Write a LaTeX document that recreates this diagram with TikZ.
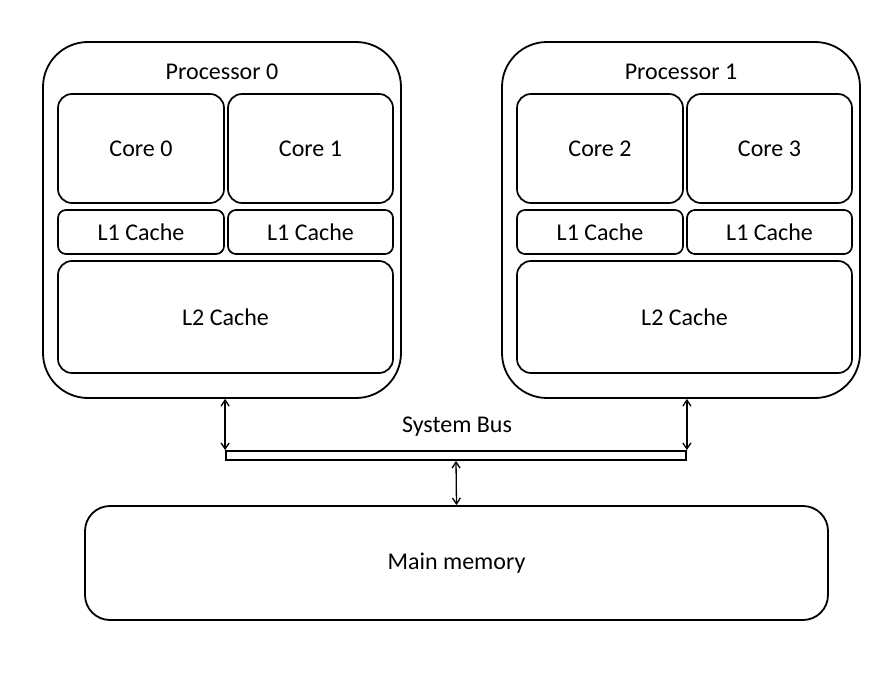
\documentclass[tikz,border=0pt]{standalone}
\usepackage{fontspec}
\setmainfont{Carlito}
\usepackage{tikz}
\usetikzlibrary{shapes,arrows,arrows.meta}
\usetikzlibrary{positioning}
\tikzset{unit box/.style={draw,rounded corners=14pt,line width=1.7pt,inner sep=0pt},
         cache box/.style={draw,rounded corners=8pt,line width=1.7pt,inner sep=0pt}}

\begin{document}
\begin{tikzpicture}[x=1pt,y=-1pt,>={Straight Barb[length=6pt,width=8pt]},
        font=\fontsize{24}{28}\selectfont,
        proc box/.style={draw,rounded corners=45pt,line width=1.8pt,minimum width=358pt,minimum height=356pt,inner sep=0pt}]
   \useasboundingbox (0,0) rectangle (891,676);
   % two processors, each with two cores
   \foreach \p/\x/\a/\b in {0/0/0/1, 1/459/2/3}{
      \node[proc box] (p\p) at (222+\x,220) {};
      \node (pl\p) at (222+\x,72) {Processor \p};
      \node[unit box,minimum width=166pt,minimum height=109pt] (core\a) at (141+\x,148.5) {Core \a};
      \node[unit box,minimum width=165pt,minimum height=109pt] (core\b) at (310.5+\x,148.5) {Core \b};
      \node[cache box,minimum width=166pt,minimum height=44pt] (la\a) at (141+\x,232) {L1 Cache};
      \node[cache box,minimum width=165pt,minimum height=44pt] (la\b) at (310.5+\x,232) {L1 Cache};
      \node[unit box,minimum width=335pt,minimum height=112pt] (lb\p) at (225.5+\x,317) {L2 Cache};
   }
   \node[draw,line width=1.8pt,minimum width=460pt,minimum height=9pt,inner sep=0pt] (bus) at (456,455.5) {};
   \node (buslabel) at (457,427) {System Bus};
   \node[draw,rounded corners=25pt,line width=1.8pt,minimum width=743pt,minimum height=114pt] (mem) at (456.5,563) {Main memory};

   \draw[<->,line width=1.3pt] (bus.north west) -- (bus.north west |- p0.south);
   \draw[<->,line width=1.3pt] (bus.north east) -- (bus.north east |- p1.south);
   \draw[<->,line width=1.3pt] (bus.south) -- (mem.north);
\end{tikzpicture}
\end{document}
